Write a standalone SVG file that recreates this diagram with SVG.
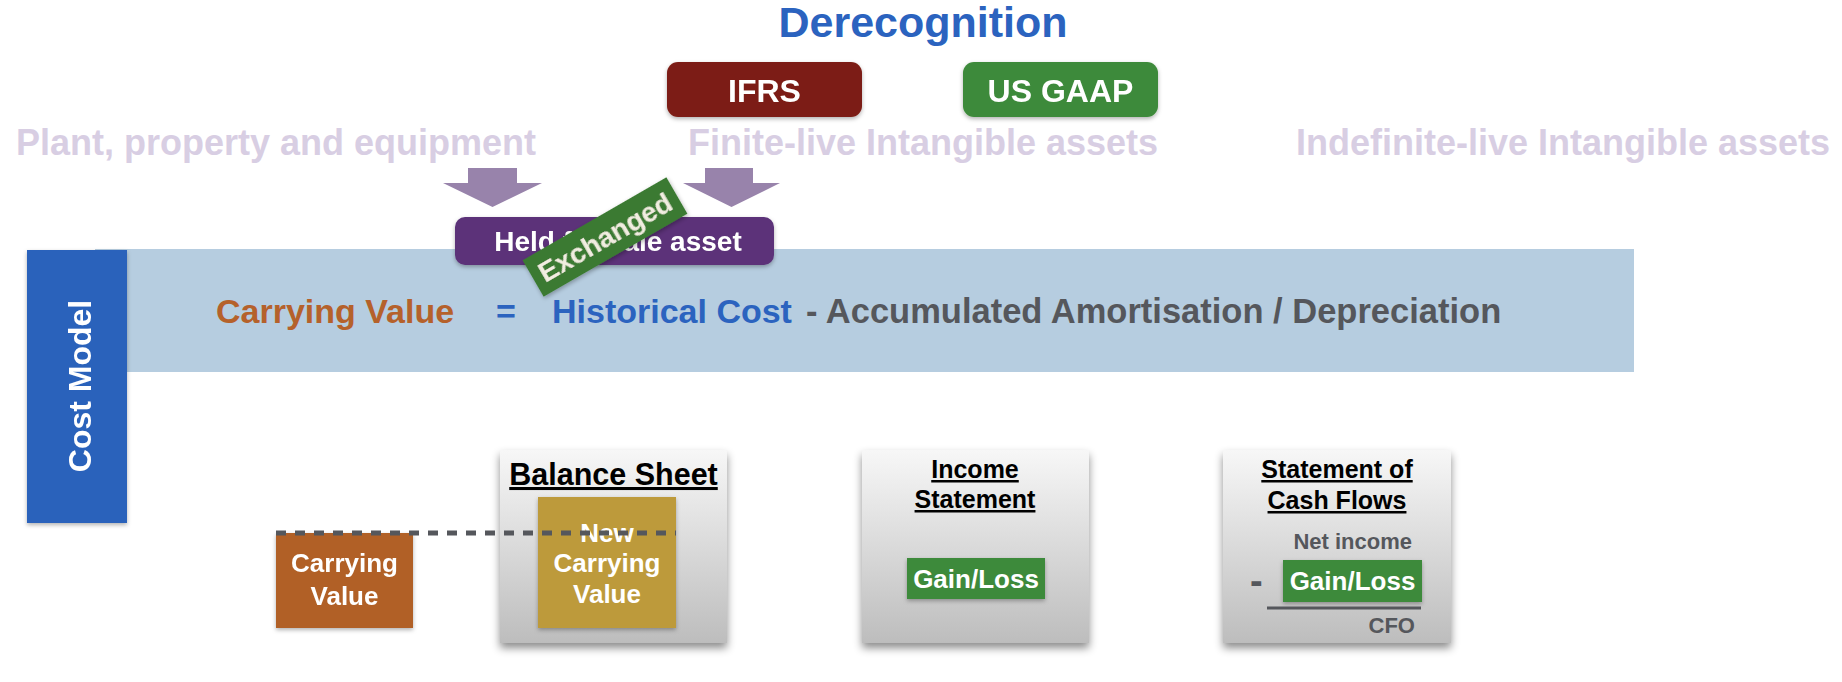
<svg xmlns="http://www.w3.org/2000/svg" width="1842" height="682" viewBox="0 0 1842 682">
  <defs>
    <style>
      text { font-family: "Liberation Sans", Arial, Helvetica, sans-serif; font-weight: bold; }
      .c { text-anchor: middle; }
      .white { fill: #ffffff; }
      .cat { fill: #d8cee3; font-size: 36px; }
      .eq { font-size: 34px; }
      .box26 { font-size: 26px; fill: #ffffff; text-anchor: middle; }
      .head { font-size: 25px; fill: #000000; text-anchor: middle; text-decoration: underline; }
      .head.big { font-size: 30.5px; }
      .gray { fill: #55575c; }
      .card { fill: url(#cardGrad); filter: url(#cardShadow); }
      .arrow { fill: #9883ab; }
    </style>
    <linearGradient id="cardGrad" x1="0" y1="0" x2="0" y2="1">
      <stop offset="0" stop-color="#f7f7f7"/>
      <stop offset="1" stop-color="#bdbdbd"/>
    </linearGradient>
    <filter id="cardShadow" x="-10%" y="-10%" width="120%" height="125%">
      <feDropShadow dx="0" dy="5" stdDeviation="4" flood-color="#000" flood-opacity="0.45"/>
    </filter>
    <filter id="soft" x="-10%" y="-10%" width="120%" height="130%">
      <feDropShadow dx="0" dy="2" stdDeviation="2" flood-color="#000" flood-opacity="0.3"/>
    </filter>
  </defs>

  <rect width="1842" height="682" fill="#ffffff"/>

  <!-- heading -->
  <g id="title">
    <text x="923" y="37" class="c" font-size="43" fill="#2b63bf">Derecognition</text>
  </g>

  <g id="node-ifrs" filter="url(#soft)">
    <rect x="667" y="62" width="195" height="55" rx="11" fill="#7b1e14"/>
    <text x="764.5" y="102" class="c white" font-size="32">IFRS</text>
  </g>
  <g id="node-usgaap" filter="url(#soft)">
    <rect x="963" y="62" width="195" height="55" rx="11" fill="#3d8a3a"/>
    <text x="1060.5" y="102" class="c white" font-size="32">US GAAP</text>
  </g>

  <!-- asset categories -->
  <g id="node-ppe"><text x="16" y="155" class="cat">Plant, property and equipment</text></g>
  <g id="node-finite"><text x="688" y="155" class="cat">Finite-live Intangible assets</text></g>
  <g id="node-indefinite"><text x="1296" y="155" class="cat">Indefinite-live Intangible assets</text></g>

  <!-- cost model band -->
  <g id="node-band">
    <rect x="95" y="249" width="1539" height="123" fill="#b6cde0"/>
    <text x="216" y="323" class="eq" fill="#b5612b">Carrying Value</text>
    <text x="506" y="323" class="eq c" fill="#2b63bf">=</text>
    <text x="552" y="323" class="eq" fill="#2b63bf">Historical Cost</text>
    <text x="806" y="323" class="eq gray" style="font-size:34.5px">- Accumulated Amortisation / Depreciation</text>
  </g>

  <g id="node-cost-model" filter="url(#soft)">
    <rect x="27" y="250" width="100" height="273" fill="#2b62bb"/>
    <text transform="translate(91,386) rotate(-90)" class="c white" font-size="32">Cost Model</text>
  </g>

  <g id="node-held" filter="url(#soft)">
    <rect x="455" y="217" width="319" height="48" rx="10" fill="#5b3379"/>
    <text x="618" y="251" class="c white" font-size="28">Held for sale asset</text>
  </g>

  <g id="node-exchanged" transform="translate(605,237) rotate(-30)" filter="url(#soft)">
    <rect x="-83" y="-21" width="166" height="42" fill="#3b7a30"/>
    <text x="0" y="10" class="c" font-size="28" fill="#f1ede0">Exchanged</text>
  </g>

  <!-- old carrying value -->
  <g id="node-carrying" filter="url(#soft)">
    <rect x="276" y="533" width="137" height="95" fill="#b16126"/>
    <text x="344.5" y="572" class="box26">Carrying</text>
    <text x="344.5" y="605" class="box26">Value</text>
  </g>

  <!-- balance sheet -->
  <g id="node-balance-sheet">
    <rect x="500" y="450" width="227" height="193" class="card"/>
    <text x="613.5" y="485" class="head big">Balance Sheet</text>
    <rect x="538" y="497" width="138" height="131" fill="#bd9a3a" filter="url(#soft)"/>
    <text x="607" y="542" class="box26">New</text>
    <text x="607" y="572" class="box26">Carrying</text>
    <text x="607" y="603" class="box26">Value</text>
  </g>

  <!-- income statement -->
  <g id="node-income-statement">
    <rect x="862" y="450" width="227" height="193" class="card"/>
    <text x="975" y="478" class="head">Income</text>
    <text x="975" y="508" class="head">Statement</text>
    <rect x="907" y="558" width="138" height="41" fill="#3c8a3b" filter="url(#soft)"/>
    <text x="976" y="588" class="box26">Gain/Loss</text>
  </g>

  <!-- statement of cash flows -->
  <g id="node-cash-flows">
    <rect x="1223" y="450" width="228" height="193" class="card"/>
    <text x="1337" y="478" class="head">Statement of</text>
    <text x="1337" y="509" class="head">Cash Flows</text>
    <text x="1412" y="549" class="gray" font-size="22" text-anchor="end">Net income</text>
    <text x="1250" y="594" class="gray" font-size="38">-</text>
    <rect x="1283" y="560" width="139" height="42" fill="#3c8a3b" filter="url(#soft)"/>
    <text x="1352.5" y="590" class="box26">Gain/Loss</text>
    <line x1="1267" y1="608" x2="1421" y2="608" stroke="#55575c" stroke-width="3"/>
    <text x="1415" y="633" class="gray" font-size="22" text-anchor="end">CFO</text>
  </g>

  <!-- connectors -->
  <g id="connectors">
    <polygon class="arrow" points="468,168 517,168 517,183 542,183 492.5,207 443,183 468,183"/>
    <polygon class="arrow" points="705,168 753,168 753,183 780,183 731.5,207 683,183 705,183"/>
    <line x1="276" y1="533" x2="676" y2="533" stroke="#55575c" stroke-width="5" stroke-dasharray="10 9"/>
  </g>
</svg>
